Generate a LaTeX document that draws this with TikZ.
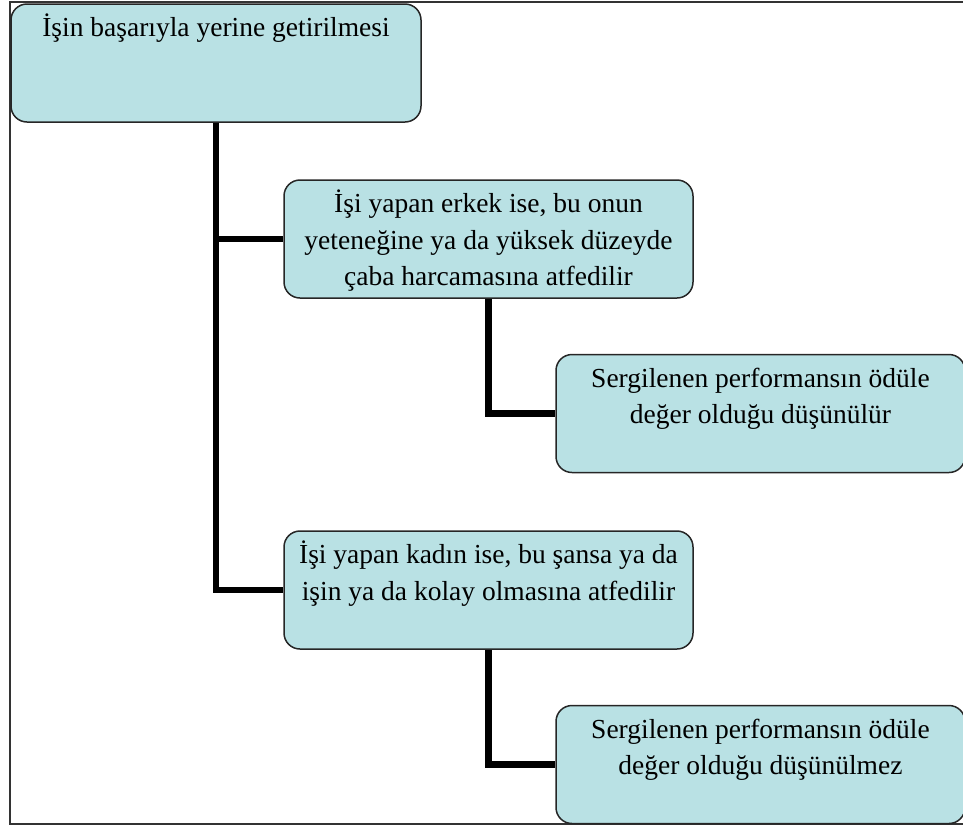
\documentclass[tikz,border=0pt]{standalone}
\usepackage{fontspec}
\setmainfont{Liberation Serif}
\usepackage{xcolor}
\usepackage{tikz}
\usetikzlibrary{positioning}
\definecolor{boxfill}{RGB}{185,225,228}
\newcommand{\topstrut}{\rule{0pt}{26pt}}

\begin{document}
\begin{tikzpicture}[
  x=1pt, y=1pt,
  box/.style={rectangle, draw=black!85, line width=1.5pt, rounded corners=16pt, fill=boxfill, minimum width=409pt, minimum height=118pt, inner sep=0pt},
  txt/.style={align=center, inner sep=0pt, font=\fontsize{27.5}{36.5}\selectfont},
  link/.style={line width=6.5pt}
]
  \useasboundingbox (0,0) rectangle (963,-828);
  % outer frame
  \draw[line width=1.6pt, black!80] (10,-2) rectangle (975,-824);

  % boxes
  \node[box, minimum width=410pt] (root) at (216,-63) {};
  \node[box] (male) at (488.5,-239) {};
  \node[box] (maleres) at (760.5,-413.5) {};
  \node[box, below=231.5pt of male] (female) {};
  \node[box, below=231.5pt of maleres] (femaleres) {};

  % texts
  \node[txt, below=7.5pt of root.north] (roottxt) {\topstrut İşin başarıyla yerine getirilmesi};
  \node[txt, below=7.5pt of male.north] (maletxt) {\topstrut İşi yapan erkek ise, bu onun\\
    yeteneğine ya da yüksek düzeyde\\
    çaba harcamasına atfedilir};
  \node[txt, below=7.5pt of maleres.north] (malerestxt) {\topstrut Sergilenen performansın ödüle\\
    değer olduğu düşünülür};
  \node[txt, below=7.5pt of female.north] (femaletxt) {\topstrut İşi yapan kadın ise, bu şansa ya da\\
    işin ya da kolay olmasına atfedilir};
  \node[txt, below=7.5pt of femaleres.north] (femalerestxt) {\topstrut Sergilenen performansın ödüle\\
    değer olduğu düşünülmez};

  % connectors
  \draw[link] (root.south) |- (male.west);
  \draw[link] (root.south) |- (female.west);
  \draw[link] (male.south) |- (maleres.west);
  \draw[link] (female.south) |- (femaleres.west);
\end{tikzpicture}
\end{document}
